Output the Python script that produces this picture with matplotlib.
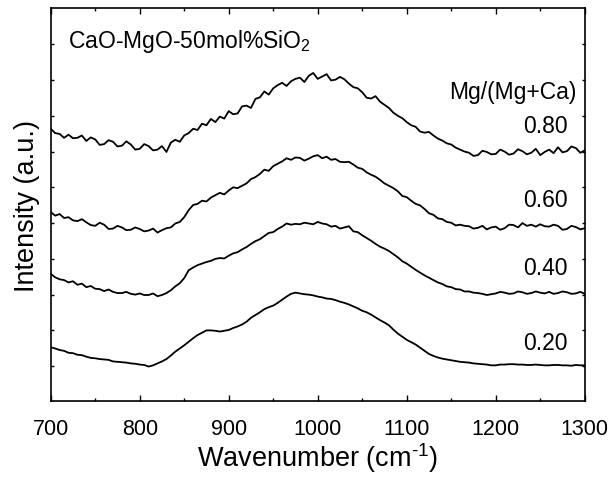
import numpy as np
import matplotlib
matplotlib.use("Agg")
import matplotlib.pyplot as plt
from matplotlib.ticker import MultipleLocator

plt.rcParams['font.family'] = ['Liberation Sans', 'DejaVu Sans']
plt.rcParams['mathtext.fontset'] = 'custom'
plt.rcParams['mathtext.rm'] = 'Liberation Sans'
plt.rcParams['mathtext.it'] = 'Liberation Sans:italic'
plt.rcParams['mathtext.default'] = 'regular'

# wavenumber grid (cm-1), values every 5 cm-1
wavenumber = list(range(700, 1301, 5))

# intensities (a.u., stacked offsets as drawn)
mg080 = [69.3, 68.2, 68.0, 67.0, 67.8, 66.9, 67.0, 67.6, 66.2, 67.1, 66.6, 65.2, 65.4, 66.4, 66.0, 64.8, 65.0, 66.1, 65.3, 64.0,
         64.2, 65.4, 64.9, 63.8, 64.0, 64.9, 63.4, 65.8, 66.5, 66.0, 67.6, 68.2, 69.3, 69.0, 70.6, 70.2, 71.8, 71.0, 72.4, 71.9,
         73.8, 73.0, 73.2, 75.0, 75.2, 74.6, 76.9, 77.3, 78.8, 78.0, 79.6, 80.4, 81.0, 80.2, 81.4, 82.0, 82.3, 81.2, 82.8, 83.5,
         82.0, 82.6, 83.2, 81.6, 81.8, 82.5, 81.9, 80.8, 79.9, 79.6, 78.6, 77.2, 77.0, 77.6, 76.2, 75.4, 74.6, 73.4, 72.6, 72.0,
         71.0, 70.2, 69.8, 68.6, 68.3, 68.5, 67.6, 66.8, 66.3, 65.6, 65.3, 64.5, 64.0, 63.5, 63.2, 62.4, 62.6, 63.7, 63.4, 62.8,
         62.9, 64.0, 63.5, 62.7, 63.0, 64.1, 63.6, 62.8, 63.2, 64.2, 62.6, 63.4, 64.0, 63.1, 64.6, 63.3, 63.6, 64.8, 64.4, 63.2,
         63.8]
mg060 = [48.1, 47.2, 47.6, 46.6, 46.8, 46.0, 45.8, 46.3, 45.5, 44.8, 44.6, 45.4, 44.9, 43.8, 43.9, 44.6, 44.2, 43.5, 43.6, 44.2,
         43.8, 43.2, 43.4, 43.9, 42.9, 43.5, 44.0, 44.2, 45.2, 45.6, 46.8, 48.6, 49.9, 50.2, 51.0, 50.8, 51.8, 52.4, 53.0, 52.6,
         53.6, 54.4, 54.2, 54.8, 55.4, 56.5, 57.0, 57.8, 58.9, 58.6, 59.8, 60.4, 61.0, 61.8, 61.4, 62.0, 61.9, 61.2, 61.7, 62.3,
         62.6, 61.8, 62.2, 61.4, 61.6, 60.9, 60.8, 60.9, 60.2, 59.4, 59.1, 58.2, 57.6, 57.1, 56.3, 55.4, 54.8, 54.2, 53.4, 52.2,
         51.9, 51.0, 50.2, 49.8, 48.9, 47.8, 47.4, 46.5, 46.3, 45.6, 45.4, 44.7, 44.9, 44.6, 44.5, 43.9, 44.1, 44.6, 43.7, 44.2,
         44.4, 43.6, 44.0, 44.9, 44.8, 44.2, 45.3, 44.6, 44.9, 44.4, 45.0, 44.5, 44.4, 44.9, 44.6, 43.6, 43.8, 44.6, 44.3, 43.7,
         44.0]
mg040 = [32.4, 31.5, 31.0, 30.8, 30.2, 30.5, 29.6, 29.9, 29.0, 29.3, 28.6, 28.5, 28.0, 28.4, 27.8, 27.5, 27.5, 27.8, 27.3, 27.1,
         27.4, 27.0, 27.0, 27.4, 26.7, 27.0, 27.5, 28.2, 29.2, 30.0, 31.3, 33.3, 34.0, 34.6, 35.0, 35.4, 35.7, 36.2, 36.4, 36.3,
         37.0, 37.6, 37.9, 38.6, 39.2, 40.0, 40.7, 41.2, 42.0, 42.8, 43.0, 43.8, 44.4, 45.2, 44.9, 45.1, 45.0, 45.4, 45.2, 45.0,
         45.6, 45.2, 45.0, 44.4, 44.6, 43.9, 44.2, 44.5, 43.2, 43.0, 42.2, 41.5, 40.8, 40.0, 39.3, 38.8, 38.2, 37.4, 36.6, 35.6,
         35.0, 34.2, 33.4, 32.7, 32.0, 31.4, 30.8, 30.2, 29.8, 29.2, 29.0, 28.5, 28.4, 27.9, 27.9, 27.6, 27.5, 27.3, 27.0, 27.2,
         27.4, 27.8, 27.6, 27.3, 27.4, 27.9, 27.7, 27.3, 27.5, 27.9, 27.6, 27.4, 27.8, 27.3, 27.5, 27.9, 27.7, 27.3, 27.4, 27.8,
         27.3]
mg020 = [13.7, 13.4, 13.0, 12.8, 12.3, 12.2, 11.8, 11.7, 11.3, 11.0, 10.9, 10.7, 10.6, 10.5, 10.1, 10.0, 9.9, 9.8, 9.6, 9.5,
         9.3, 9.2, 8.8, 9.1, 9.6, 10.1, 10.7, 11.6, 12.6, 13.4, 14.2, 15.1, 16.0, 16.8, 17.4, 18.0, 18.0, 17.9, 17.7, 17.9,
         18.1, 18.6, 19.0, 19.5, 20.2, 21.2, 21.9, 22.6, 23.4, 23.9, 24.3, 25.0, 25.8, 26.6, 27.3, 27.6, 27.4, 27.2, 27.1, 26.9,
         26.6, 26.4, 26.1, 26.0, 25.7, 25.3, 25.0, 24.6, 24.1, 23.6, 23.0, 22.6, 22.0, 21.3, 20.6, 20.0, 19.3, 18.2, 17.2, 16.4,
         15.6, 15.0, 14.4, 13.6, 12.8, 12.0, 11.5, 11.1, 10.8, 10.6, 10.4, 10.2, 10.0, 9.9, 9.8, 9.6, 9.5, 9.4, 9.3, 9.1,
         9.1, 9.3, 9.3, 9.4, 9.4, 9.3, 9.3, 9.2, 9.2, 9.3, 9.2, 9.1, 9.1, 9.2, 9.2, 9.1, 9.1, 9.0, 9.2, 9.1,
         9.1]

series = [mg080, mg060, mg040, mg020]
labels = ["0.80", "0.60", "0.40", "0.20"]
label_y = [70.2, 51.4, 34.1, 15.0]

fig = plt.figure(figsize=(6.11, 4.81), dpi=100)
ax = fig.add_axes([0.083, 0.164, 0.874, 0.817])

for s in series:
    ax.plot(wavenumber, s, color='black', lw=1.3)

# curve labels
for lab, yy in zip(labels, label_y):
    ax.text(1281, yy, lab, ha='right', va='center', fontsize=16.5)
ax.text(1291, 78.9, "Mg/(Mg+Ca)", ha='right', va='center', fontsize=16.5)
ax.text(719, 90.1, "CaO-MgO-50mol%SiO$_2$", ha='left', va='baseline', fontsize=16.5)

ax.set_xlim(700, 1300)
ax.set_ylim(0, 100)
ax.xaxis.set_major_locator(MultipleLocator(100))
ax.xaxis.set_minor_locator(MultipleLocator(50))
ax.set_yticks(np.arange(8.9, 95, 9.1))
ax.set_yticklabels([])
ax.tick_params(which='both', direction='in', top=True, right=True, width=1.0)
ax.tick_params(axis='x', which='major', length=4, labelsize=15.5, pad=12)
ax.tick_params(axis='x', which='minor', length=2.5)
ax.tick_params(axis='y', length=2.5, pad=2)
for sp in ax.spines.values():
    sp.set_linewidth(1.2)

ax.set_xlabel("Wavenumber (cm$^{\\text{-1}}$)", fontsize=19.5, labelpad=1)
ax.set_ylabel("Intensity (a.u.)", fontsize=19.5, labelpad=6)

fig.savefig("out.png", dpi=100)
